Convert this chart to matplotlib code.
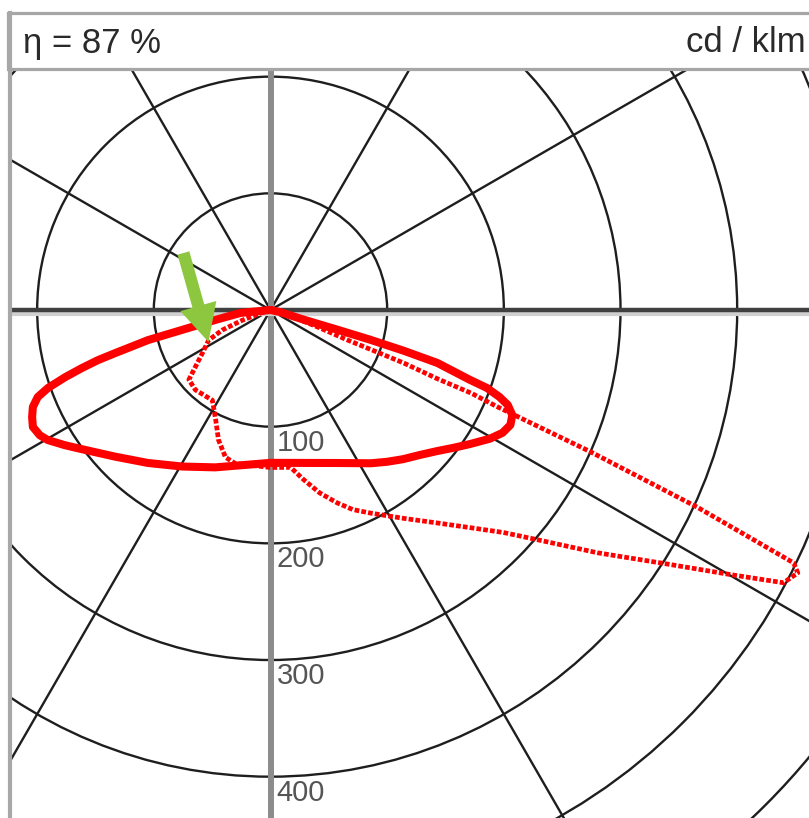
import matplotlib
matplotlib.use("Agg")
import matplotlib.pyplot as plt
import numpy as np
from matplotlib.patches import Circle, FancyArrow, Rectangle
from matplotlib.lines import Line2D

# ---------------- data (cd/klm, angle from nadir in degrees) ----------------
solid_gamma = [-90, -84.4, -79.8, -77.3, -76.2, -74.5, -73.8, -72.9, -71.9, -70.7,
               -69.5, -67.8, -65.8, -63.8, -61.5, -59.7, -56.7, -53.6, -46.6,
               -38.7, -29.4, -19.4, -8.3, 0,
               12, 23.5, 33.2, 37.5, 41.6, 45.9, 49.7, 52.9, 56.1, 59.6,
               62.1, 64.4, 66.5, 68.2, 69.2, 70.2, 70.7, 72.4, 73.0, 73.4,
               73.6, 73.8, 78, 90]
solid_I = [0, 26, 48, 78, 108, 138, 154, 169, 185, 202,
           213, 220, 224, 227, 225, 221, 211, 201, 183,
           168, 154, 143, 134, 131,
           134, 143, 157, 164, 171, 178.5, 187, 196, 206, 218,
           225, 228, 226, 219, 210, 197, 181, 150, 119, 89,
           60, 30, 8, 0]

dashed_gamma = [-90, -72, -70, -67.4, -64, -57.7, -52.8, -49.5, -43.2, -32.8,
                -26.6, -21.8, -17, -12.9, 0, 7.3, 11, 15.1, 19.1, 22.4, 26.2,
                32.6, 38.1, 42.5, 46.3, 49.3, 53.4, 57.2, 60.1, 62, 63.5, 64.2,
                65.2, 66.1, 66.4, 66.9, 67.5, 67.6, 68.3, 68.5, 68.7, 70, 73, 90]
dashed_I = [0, 10, 26, 45, 59, 69, 81, 92, 94, 92,
            105, 120, 132, 135, 135, 136, 148, 162.5, 175, 185, 194,
            212, 232, 253, 276, 302, 349, 401, 455, 498, 505, 498,
            403, 300, 260, 211, 186, 155, 123, 92, 71, 45, 20, 0]

ring_values = [100, 200, 300, 400, 500, 600, 700]
label_values = [100, 200, 300, 400]
spoke_angles = [30, 60, 120, 150, 210, 240, 300, 330]

efficiency_text = "η = 87 %"
unit_text = "cd / klm"

# arrow marker (polar: angle from nadir, radius) tail and tip
arrow_tail = (-123.2, 89.2)
arrow_tip = (-62.7, 59.8)

# ---------------- layout ----------------
W, H = 809, 818
fig = plt.figure(figsize=(W / 100, H / 100), dpi=100)
fig.patch.set_facecolor("white")


def fx(px):
    return px / W


def fy(py):
    return 1 - py / H


cx, cy = 270.5, 310.0
S = 1.1667  # pixels per cd/klm
ax_left, ax_right, ax_top, ax_bottom = 8, 809, 69, 818
ax = fig.add_axes([fx(ax_left), fy(ax_bottom), (ax_right - ax_left) / W,
                   (ax_bottom - ax_top) / H])
ax.set_xlim((ax_left - cx) / S, (ax_right - cx) / S)
ax.set_ylim(-(ax_bottom - cy) / S, (cy - ax_top) / S)
ax.axis("off")

grid_col = "#1e1e1e"
for r in ring_values:
    ax.add_patch(Circle((0, 0), r, fill=False, ec=grid_col, lw=1.7, zorder=2))
for a in spoke_angles:
    t = np.radians(a)
    ax.plot([0, 1200 * np.sin(t)], [0, -1200 * np.cos(t)], color=grid_col,
            lw=1.7, zorder=2)

ax.axvline(0, color="#8c8c8c", lw=4.3, zorder=3)
ax.axhline(-3.5, color="#d0d0d0", lw=3, zorder=3)
ax.axhline(0, color="#404040", lw=3.2, zorder=3)


def to_xy(gam, inten):
    g = np.radians(np.asarray(gam, dtype=float))
    i = np.asarray(inten, dtype=float)
    return i * np.sin(g), -i * np.cos(g)


xs, ys = to_xy(solid_gamma, solid_I)
ax.plot(xs, ys, color="#ff0000", lw=5.8, solid_joinstyle="round",
        solid_capstyle="round", zorder=5)
xd, yd = to_xy(dashed_gamma, dashed_I)
ax.plot(xd, yd, color="#ff0000", lw=3.4, linestyle=(0, (1.0, 0.45)),
        dash_capstyle="butt", zorder=6)

for r in label_values:
    ax.text(6 / S, -r - 2 / S, str(r), va="top", ha="left", fontsize=21,
            color="#555555", family="Liberation Sans", zorder=4)

(tx, ty) = to_xy([arrow_tail[0]], [arrow_tail[1]])
(hx, hy) = to_xy([arrow_tip[0]], [arrow_tip[1]])
ax.add_patch(FancyArrow(tx[0], ty[0], hx[0] - tx[0], hy[0] - ty[0], width=10.5,
                        head_width=32, head_length=32,
                        length_includes_head=True, color="#8dc63f",
                        lw=0, zorder=8))

# ---------------- header & frame ----------------
fig.add_artist(Rectangle((fx(8), fy(68.5)), 1.05, (68.5 - 13.5) / H,
                         transform=fig.transFigure, fc="white", ec="#a6a6a6",
                         lw=2.3, zorder=10))
fig.add_artist(Line2D([fx(9.5), fx(9.5)], [fy(13), fy(818)],
                      transform=fig.transFigure, color="#a8a8a8", lw=3,
                      zorder=11))
fig.text(fx(23), fy(52.5), efficiency_text, fontsize=25, va="baseline",
         ha="left", family="Liberation Sans", color="#2a2a2a", zorder=12)
fig.text(fx(806), fy(52.5), unit_text, fontsize=25, va="baseline",
         ha="right", family="Liberation Sans", color="#2a2a2a", zorder=12)

fig.savefig("out.png", dpi=100, facecolor="white")
